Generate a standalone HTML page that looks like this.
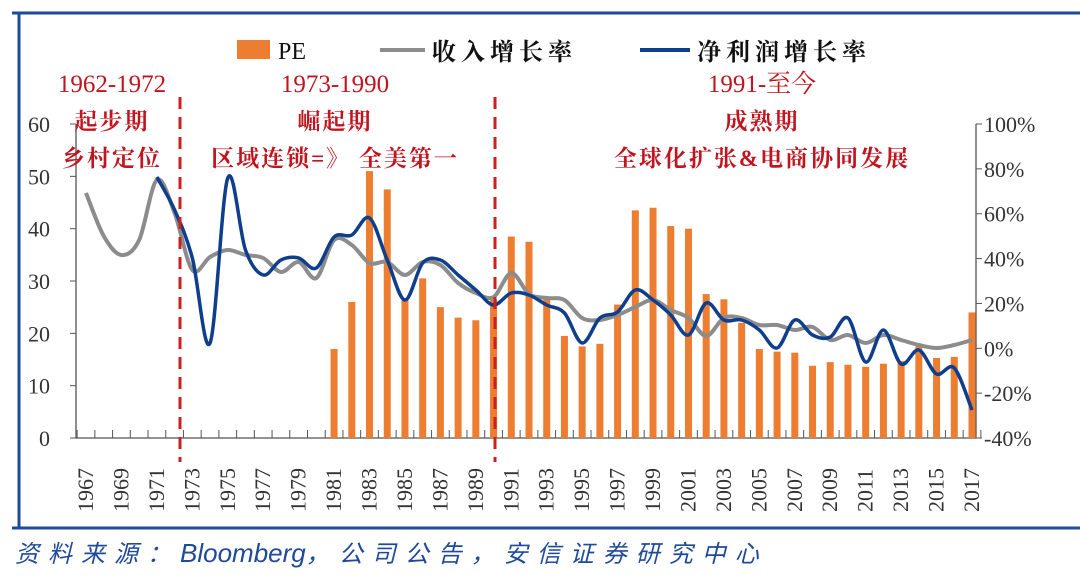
<!DOCTYPE html>
<html><head><meta charset="utf-8"><style>
body{margin:0;background:#fff;width:1080px;height:580px;overflow:hidden}
svg{display:block}
</style></head><body>
<svg id="s" width="1080" height="580" xmlns="http://www.w3.org/2000/svg" font-family="'Liberation Serif','Noto Serif CJK SC',serif">
<rect x="0" y="0" width="1080" height="580" fill="#fff"/>
<path d="M12 13 H1080 M19 13 V528 M12 528 H1080" stroke="#1f4a9a" stroke-width="3" fill="none"/>
<g id="g"></g>
<text x="15" y="562" font-family="'Liberation Sans','Noto Sans CJK SC',sans-serif" font-style="italic" font-size="24" letter-spacing="9" fill="#1f4a9a">资料来源：<tspan font-size="26" letter-spacing="0">Bloomberg</tspan>，公司公告，安信证券研究中心</text>
</svg>
<script>
const g=document.getElementById('g');let h='';
const X=y=>86+(y-1967)*17.72;
const YL=v=>438-v*5.233;
h+='<path d="M76 124 V438 H976 V124" stroke="#555" stroke-width="1.3" fill="none"/>';
for(let v=0;v<=60;v+=10){const y=YL(v);h+=`<line x1="70" x2="76" y1="${y}" y2="${y}" stroke="#555"/><text x="50" y="${y+8}" font-size="22" text-anchor="end" fill="#333">${v}</text>`;}
for(let p=-40;p<=100;p+=20){const y=348.3-p*2.243;h+=`<line x1="976" x2="982" y1="${y}" y2="${y}" stroke="#555"/><text x="984" y="${y+8}" font-size="22" fill="#333">${p}%</text>`;}
for(let yr=1967;yr<=2018;yr++){const x=X(yr)-8.86;h+=`<line x1="${x}" x2="${x}" y1="430" y2="438" stroke="#555"/>`;}
for(let yr=1967;yr<=2017;yr+=2){const x=X(yr);h+=`<text transform="translate(${x+7},512) rotate(-90)" font-size="22" fill="#333">${yr}</text>`;}
const pe=[17,26,51,47.5,26.5,30.5,25,23,22.5,26.5,38.5,37.5,27,19.5,17.5,18,25.5,43.5,44,40.5,40,27.5,26.5,22,17,16.5,16.3,13.8,14.5,14,13.6,14.2,14.7,17.5,15.3,15.5,24];
pe.forEach((v,i)=>{const x=X(1981+i);h+=`<rect x="${x-3.5}" y="${YL(v)}" width="7" height="${v*5.233}" fill="#ed7d31"/>`;});
function sm(pts){let d=`M${pts[0][0]} ${pts[0][1]}`;for(let i=0;i<pts.length-1;i++){const p0=pts[i-1]||pts[i],p1=pts[i],p2=pts[i+1],p3=pts[i+2]||p2;const t=6;d+=` C${p1[0]+(p2[0]-p0[0])/t} ${p1[1]+(p2[1]-p0[1])/t} ${p2[0]-(p3[0]-p1[0])/t} ${p2[1]-(p3[1]-p1[1])/t} ${p2[0]} ${p2[1]}`;}return d;}
const gr=[193,236,255,240,180,213,270,257,250,255,258,272,262,278,240,245,263,262,275,262,265,283,293,297,273,294,298,300,318,320,315,307,300,310,318,336,318,318,325,325,330,327,340,335,343,335,340,345,348,345,340];
const bl=[177,210,258,343,178,250,275,260,258,268,237,235,218,260,300,263,260,275,290,305,293,295,305,313,343,318,312,290,300,315,335,303,320,320,330,348,320,335,337,318,362,330,364,350,374,368,410];
h+=`<path d="${sm(gr.map((y,i)=>[X(1967+i),y]))}" stroke="#8c8c8c" stroke-width="4" fill="none"/>`;
h+=`<path d="${sm(bl.map((y,i)=>[X(1971+i),y]))}" stroke="#0e3e8c" stroke-width="3.5" fill="none"/>`;
[180,495].forEach(x=>h+=`<line x1="${x}" x2="${x}" y1="97" y2="462" stroke="#cc1f1f" stroke-width="3" stroke-dasharray="12,8"/>`);
h+='<rect x="237" y="40" width="33" height="19" fill="#ed7d31"/><text x="278" y="59" font-size="24" fill="#111">PE</text>';
h+='<line x1="380" x2="425" y1="50" y2="50" stroke="#8c8c8c" stroke-width="4"/><text x="432" y="60" font-size="24" font-weight="bold" letter-spacing="5" fill="#111">收入增长率</text>';
h+='<line x1="640" x2="690" y1="50" y2="50" stroke="#0e3e8c" stroke-width="4"/><text x="697" y="60" font-size="24" font-weight="bold" letter-spacing="5" fill="#111">净利润增长率</text>';
const ann=[[112,['1962-1972','起步期','乡村定位']],[335,['1973-1990','崛起期','区域连锁=》 全美第一']],[762,['1991-至今','成熟期','全球化扩张&电商协同发展']]];
ann.forEach(([x,t])=>t.forEach((s,i)=>h+=`<text x="${x}" y="${92+i*37}" font-size="${i?23:25}" ${i?'letter-spacing="2" font-weight="bold"':''} text-anchor="middle" fill="#c0141e">${s}</text>`));
g.innerHTML=h;
</script>
</body></html>
